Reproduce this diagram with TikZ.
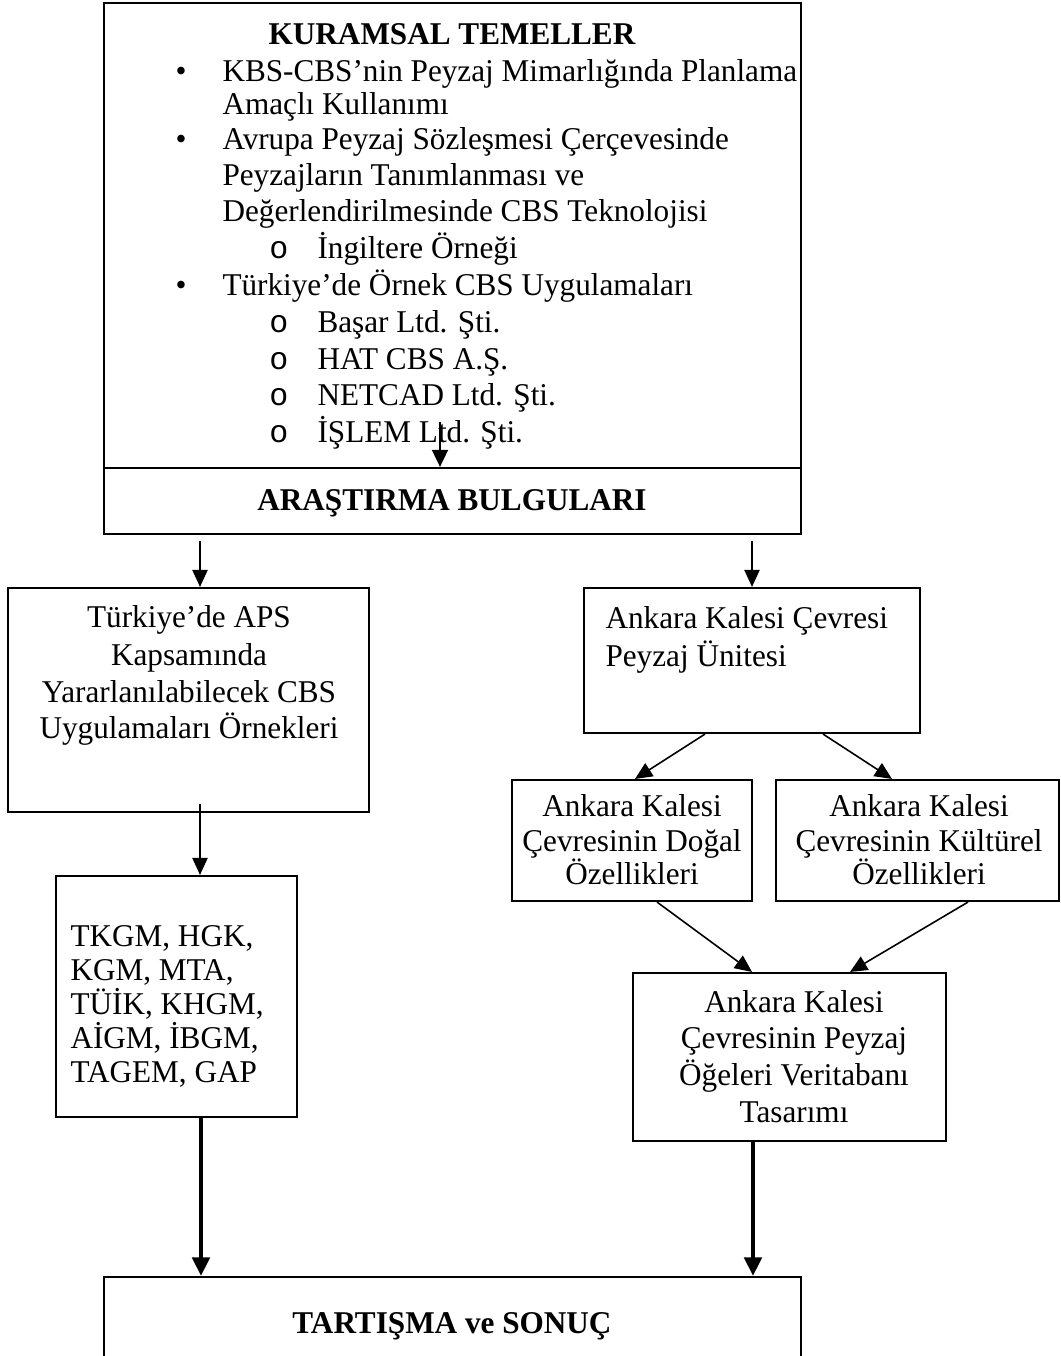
\documentclass[tikz,border=0pt]{standalone}
\usepackage{fontspec}
\setmainfont{Liberation Serif}[FakeStretch=0.985]
\newfontfamily\monof{Liberation Mono}
\usetikzlibrary{arrows.meta,fit}
\begin{document}
\begin{tikzpicture}[x=0.3788pt,y=-0.3788pt,
  box/.style={draw, line width=0.8pt, inner sep=0pt},
  txt/.style={inner sep=0pt, font=\fontsize{12}{13.8}\selectfont},
  lt/.style={txt, anchor=base west},
  ct/.style={txt, anchor=base},
  ot/.style={txt, anchor=base, font=\fontsize{12}{13.8}\selectfont\monof},
  bt/.style={txt, anchor=base, font=\fontsize{12}{13.8}\selectfont\bfseries},
  arr/.style={-{Triangle[length=6.5pt,width=5.8pt]}, line width=0.6pt},
  marr/.style={-{Triangle[length=6.5pt,width=6pt]}, line width=1pt},
  tarr/.style={-{Triangle[length=7pt,width=6.5pt]}, line width=1.6pt}]
\clip (0,0) rectangle (1060,1356);
% boxes
\node[box, fit={(104,3) (801,468)}] (kur) {};
\node[box, fit={(104,468) (801,534)}] (bul) {};
\node[box, fit={(8,588) (369,812)}] (aps) {};
\node[box, fit={(584,588) (920,733)}] (unit) {};
\node[box, fit={(512,780) (752,901)}] (dog) {};
\node[box, fit={(776,780) (1059,901)}] (kul) {};
\node[box, fit={(56,876) (297,1117)}] (tk) {};
\node[box, fit={(633,973) (946,1141)}] (ver) {};
\node[box, fit={(104,1277) (801,1400)}] (son) {};
% top box text
\node[bt] (kurT) at (452,45) {KURAMSAL TEMELLER};
\node[ct] (b1) at (181,82) {•};
\node[lt] (l1) at (222,82) {KBS-CBS’nin Peyzaj Mimarlığında Planlama};
\node[lt] (l2) at (222,115) {Amaçlı Kullanımı};
\node[ct] (b2) at (181,150) {•};
\node[lt] (l3) at (222,150) {Avrupa Peyzaj Sözleşmesi Çerçevesinde};
\node[lt] (l4) at (222,186) {Peyzajların Tanımlanması ve};
\node[lt] (l5) at (222,222) {Değerlendirilmesinde CBS Teknolojisi};
\node[ot] (s1) at (279,259) {o};
\node[lt] (l6) at (317,259) {İngiltere Örneği};
\node[ct] (b3) at (181,296) {•};
\node[lt] (l7) at (222,296) {Türkiye’de Örnek CBS Uygulamaları};
\node[ot] (s2) at (279,333) {o};
\node[lt] (l8) at (317,333) {Başar Ltd. Şti.};
\node[ot] (s3) at (279,369) {o};
\node[lt] (l9) at (317,369) {HAT CBS A.Ş.};
\node[ot] (s4) at (279,406) {o};
\node[lt] (l10) at (317,406) {NETCAD Ltd. Şti.};
\node[ot] (s5) at (279,443) {o};
\node[lt] (l11) at (317,443) {İŞLEM Ltd. Şti.};
% bulgular
\node[bt] (bulT) at (452,510) {ARAŞTIRMA BULGULARI};
% aps box
\node[ct] (a1) at (189,627) {Türkiye’de APS};
\node[ct] (a2) at (189,665) {Kapsamında};
\node[ct] (a3) at (189,702) {Yararlanılabilecek CBS};
\node[ct] (a4) at (189,738) {Uygulamaları Örnekleri};
% unit box
\node[lt] (u1) at (605,628) {Ankara Kalesi Çevresi};
\node[lt] (u2) at (605,666) {Peyzaj Ünitesi};
% dogal
\node[ct] (d1) at (632,816) {Ankara Kalesi};
\node[ct] (d2) at (632,851) {Çevresinin Doğal};
\node[ct] (d3) at (632,884) {Özellikleri};
% kulturel
\node[ct] (k1) at (919,816) {Ankara Kalesi};
\node[ct] (k2) at (919,851) {Çevresinin Kültürel};
\node[ct] (k3) at (919,884) {Özellikleri};
% tk box
\node[lt] (t1) at (70,946) {TKGM, HGK,};
\node[lt] (t2) at (70,980) {KGM, MTA,};
\node[lt] (t3) at (70,1014) {TÜİK, KHGM,};
\node[lt] (t4) at (70,1048) {AİGM, İBGM,};
\node[lt] (t5) at (70,1082) {TAGEM, GAP};
% veritabani
\node[ct] (v1) at (794,1012) {Ankara Kalesi};
\node[ct] (v2) at (794,1048) {Çevresinin Peyzaj};
\node[ct] (v3) at (794,1085) {Öğeleri Veritabanı};
\node[ct] (v4) at (794,1122) {Tasarımı};
% sonuc
\node[bt] (sonT) at (452,1333) {TARTIŞMA ve SONUÇ};
% connector anchors
\coordinate (c0) at (440,422);
\coordinate (c1) at (200,541);
\coordinate (c2) at (752,541);
\coordinate (c3) at (705,0);
\coordinate (c4) at (635,0);
\coordinate (c5) at (823,0);
\coordinate (c6) at (892,0);
\coordinate (c7) at (200,804);
\coordinate (c8) at (657,0);
\coordinate (c9) at (752,0);
\coordinate (c10) at (968,0);
\coordinate (c11) at (850,0);
\coordinate (c12) at (201,0);
\coordinate (c13) at (753,0);
% connectors
\draw[marr] (c0) -- (c0 |- bul.north);
\draw[arr] (c1) -- (c1 |- aps.north);
\draw[arr] (c2) -- (c2 |- unit.north);
\draw[arr] (c3 |- unit.south) -- (c4 |- dog.north);
\draw[arr] (c5 |- unit.south) -- (c6 |- kul.north);
\draw[arr] (c7) -- (c7 |- tk.north);
\draw[arr] (c8 |- dog.south) -- (c9 |- ver.north);
\draw[arr] (c10 |- kul.south) -- (c11 |- ver.north);
\draw[tarr] (c12 |- tk.south) -- (c12 |- son.north);
\draw[tarr] (c13 |- ver.south) -- (c13 |- son.north);
\end{tikzpicture}
\end{document}
